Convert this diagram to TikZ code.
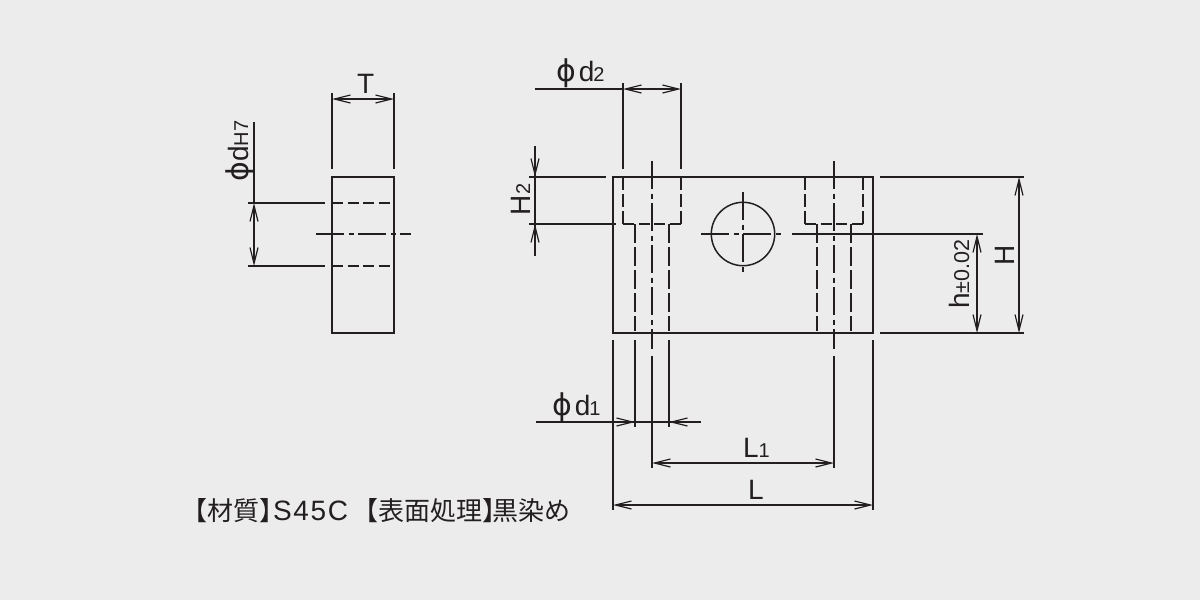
\documentclass[tikz,border=0pt]{standalone}
\usepackage{fontspec}
\usetikzlibrary{arrows.meta}
\setmainfont{Liberation Sans}
\newfontfamily\cjk{Noto Sans CJK JP}
\newfontfamily\phif{DejaVu Sans}
\newfontfamily\latw[LetterSpace=6]{Liberation Sans}
\definecolor{bgc}{HTML}{ECECEC}
\definecolor{ink}{HTML}{231F20}
\tikzset{
  ln/.style={draw=ink,line width=1.2pt},
  dimtip/.tip={Straight Barb[length=16pt,width=8pt,line width=1.2pt]},
  hid/.style={ln,dash pattern=on 11pt off 4.5pt},
  hidv/.style={ln,dash pattern=on 13pt off 4pt},
  hidl/.style={ln,dash pattern=on 19pt off 4pt},
  ctr/.style={ln,dash pattern=on 27.5pt off 5pt on 5pt off 4.5pt},
  lbl/.style={text=ink,inner sep=0pt,outer sep=0pt},
}
\newcommand{\lgt}{\fontsize{28}{28}\selectfont}
\newcommand{\sml}{\fontsize{20}{20}\selectfont}
\newcommand{\phig}{{\phif\fontsize{30}{30}\selectfont ϕ}}
\begin{document}
\begin{tikzpicture}[x=1pt,y=-1pt]
\useasboundingbox (0,0) rectangle (1200,600);
\fill[bgc] (0,0) rectangle (1200,600);
% side view
\draw[ln] (332,177) rectangle (394,333);
\draw[ln] (332,93) -- (332,169);
\draw[ln] (394,93) -- (394,169);
\draw[ln,dimtip-dimtip] (332,99) -- (394,99);
\draw[ln] (248,203) -- (325,203);
\draw[ln] (248,266) -- (325,266);
\draw[hid] (332,203) -- (391,203);
\draw[hid] (332,266) -- (391,266);
\draw[ctr] (316,234) -- (411,234);
\draw[ln] (254,122) -- (254,203);
\draw[ln,dimtip-dimtip] (254,203) -- (254,266);
% front view
\draw[ln] (613,177) rectangle (873,333);
\draw[ln] (529,177) -- (605.5,177);
\draw[ln] (529,224) -- (616,224);
\draw[ln] (623,83) -- (623,169);
\draw[ln] (681,83) -- (681,169);
\draw[ln] (534.5,89) -- (623,89);
\draw[ln,dimtip-dimtip] (623,89) -- (681,89);
% counterbores
\draw[hidv] (623,177) -- (623,224);
\draw[hidv] (681,177) -- (681,224);
\draw[hid] (623,224) -- (681,224);
\draw[hidv] (805,177) -- (805,224);
\draw[hidv] (863,177) -- (863,224);
\draw[hid] (805,224) -- (863,224);
\draw[hidl] (635,224) -- (635,331);
\draw[hidl] (669,224) -- (669,331);
\draw[hidl] (817,224) -- (817,331);
\draw[hidl] (851,224) -- (851,331);
% hole centre lines
\draw[ctr] (652,161) -- (652,349);
\draw[ctr] (834,161) -- (834,349);
\draw[ln] (652,356) -- (652,468);
\draw[ln] (834,356) -- (834,468);
% cross hole
\draw[ln,line width=1.5pt] (743,234) circle (31.7);
\draw[ctr] (701,234) -- (782,234);
\draw[ctr] (743,192) -- (743,273);
\draw[ln] (792,234) -- (983,234);
% right dimensions
\draw[ln] (880,177) -- (1024,177);
\draw[ln] (880,333) -- (1024,333);
\draw[ln,dimtip-dimtip] (1019,177) -- (1019,333);
\draw[ln,dimtip-dimtip] (977,234) -- (977,333);
% H2
\draw[ln] (535,146) -- (535,255.5);
\draw[ln,-dimtip] (535,150) -- (535,177);
\draw[ln,-dimtip] (535,252) -- (535,224);
% bottom extension lines
\draw[ln] (613,340) -- (613,510);
\draw[ln] (635,340) -- (635,427);
\draw[ln] (669,340) -- (669,427);
\draw[ln] (873,340) -- (873,510);
\draw[ln] (536,422) -- (700.7,422);
\draw[ln,-dimtip] (610,422) -- (635,422);
\draw[ln,-dimtip] (695,422) -- (669,422);
\draw[ln,dimtip-dimtip] (652,463) -- (834,463);
\draw[ln,dimtip-dimtip] (613,505) -- (873,505);
% labels
\node[lbl,anchor=base] (tT) at (365.7,93) {\lgt T};
\node[lbl,rotate=90,anchor=base west] (tdH) at (248,181.5) {\lgt \phig d\sml H7};
\node[lbl,anchor=base west] (td2) at (556,81) {\lgt \phig\kern3pt d\kern-1pt\sml 2};
\node[lbl,rotate=90,anchor=base] (tH2) at (530,199.5) {\lgt H\sml 2};
\node[lbl,anchor=base west] (td1) at (552,415) {\lgt \phig\kern3pt d\kern-1pt\sml 1};
\node[lbl,anchor=base] (tL1) at (756.5,457.7) {\lgt L\sml 1};
\node[lbl,anchor=base] (tL) at (756,499) {\lgt L};
\node[lbl,rotate=90,anchor=base] (tH) at (1014,255.5) {\lgt H};
\node[lbl,rotate=90,anchor=base] (th) at (969,274) {\lgt h\fontsize{21.5}{21.5}\selectfont ±0.02};
\node[lbl,anchor=base west] (note) at (181,520) {\fontsize{26}{26}\selectfont\cjk 【材質】\kern-12pt{\fontsize{28}{28}\selectfont\latw S45C}\kern4pt 【表面処理】\kern-16pt 黒染め};
\end{tikzpicture}
\end{document}
